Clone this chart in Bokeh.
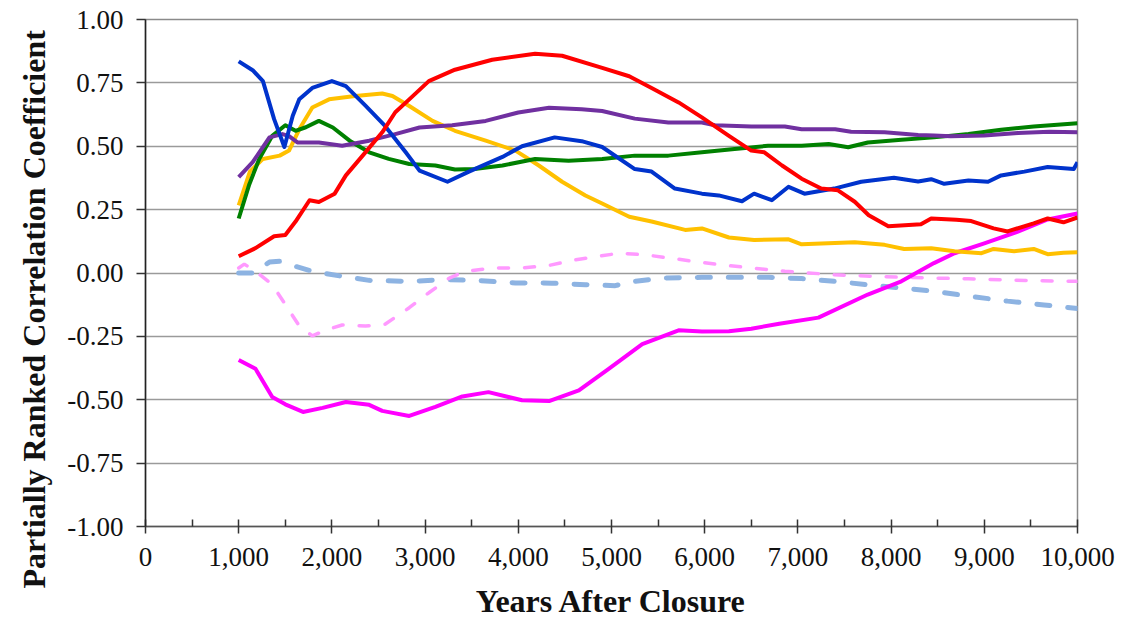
from bokeh.plotting import figure
from bokeh.models import Range1d, FixedTicker, NumeralTickFormatter, Title
from bokeh.embed import file_html
from bokeh.resources import INLINE

# ---- data ----
blue_x = [1000, 1150, 1260, 1380, 1490, 1580, 1650, 1790, 2000, 2150, 2360, 2570, 2790, 2940, 3240, 3470,
          3830, 4040, 4390, 4680, 4900, 5250, 5430, 5680, 5970, 6150, 6400, 6530, 6720, 6900, 7070, 7390,
          7680, 8030, 8290, 8430, 8570, 8830, 9040, 9180, 9430, 9680, 9960, 10000]
blue_y = [0.835, 0.80, 0.757, 0.607, 0.497, 0.62, 0.685, 0.73, 0.757, 0.737, 0.66, 0.58, 0.477, 0.404, 0.36, 0.40,
          0.458, 0.50, 0.535, 0.52, 0.497, 0.41, 0.40, 0.333, 0.313, 0.306, 0.283, 0.313, 0.287, 0.34, 0.313, 0.333,
          0.36, 0.376, 0.361, 0.37, 0.352, 0.365, 0.36, 0.385, 0.40, 0.418, 0.41, 0.437]

red_x = [1000, 1180, 1380, 1500, 1610, 1760, 1860, 2030, 2150, 2330, 2540, 2680, 2830, 3040, 3320, 3720,
         4180, 4470, 4900, 5190, 5430, 5720, 5970, 6260, 6500, 6640, 6830, 7040, 7250, 7430, 7610, 7760,
         7970, 8320, 8430, 8700, 8860, 9100, 9250, 9530, 9680, 9850, 10000]
red_y = [0.066, 0.098, 0.145, 0.15, 0.203, 0.287, 0.28, 0.313, 0.385, 0.463, 0.555, 0.634, 0.685, 0.757, 0.802, 0.841,
         0.865, 0.857, 0.809, 0.776, 0.73, 0.673, 0.614, 0.541, 0.483, 0.476, 0.424, 0.372, 0.333, 0.326, 0.281, 0.228,
         0.184, 0.192, 0.215, 0.21, 0.205, 0.176, 0.164, 0.196, 0.215, 0.2, 0.219]

yellow_x = [1000, 1120, 1260, 1440, 1540, 1650, 1790, 1970, 2250, 2540, 2650, 2830, 3080, 3320, 3650, 3970,
            4220, 4470, 4720, 4900, 5190, 5430, 5790, 5970, 6260, 6530, 6900, 7040, 7610, 7930, 8140, 8430,
            8680, 8970, 9100, 9320, 9530, 9680, 9850, 10000]
yellow_y = [0.267, 0.40, 0.45, 0.463, 0.483, 0.567, 0.653, 0.685, 0.698, 0.708, 0.698, 0.659, 0.60, 0.561, 0.522, 0.483,
            0.424, 0.36, 0.306, 0.274, 0.222, 0.203, 0.17, 0.176, 0.14, 0.13, 0.133, 0.113, 0.121, 0.111, 0.095, 0.098,
            0.086, 0.078, 0.095, 0.086, 0.095, 0.074, 0.08, 0.082]

green_x = [1000, 1110, 1220, 1360, 1500, 1610, 1720, 1860, 2010, 2190, 2400, 2610, 2830, 3110, 3320, 3530,
           3830, 4180, 4540, 4900, 5250, 5610, 5970, 6320, 6680, 7040, 7330, 7540, 7750, 8110, 8460, 8830,
           9180, 9530, 10000]
green_y = [0.215, 0.346, 0.45, 0.541, 0.583, 0.561, 0.575, 0.60, 0.574, 0.522, 0.476, 0.45, 0.43, 0.424, 0.408, 0.41,
           0.424, 0.45, 0.443, 0.45, 0.463, 0.463, 0.476, 0.489, 0.502, 0.502, 0.509, 0.496, 0.515, 0.526, 0.535, 0.548,
           0.565, 0.578, 0.591]

purple_x = [1000, 1150, 1330, 1470, 1540, 1630, 1860, 2110, 2400, 2680, 2940, 3290, 3650, 4000, 4330, 4680,
            4900, 5250, 5610, 5970, 6110, 6500, 6860, 7040, 7400, 7570, 7930, 8290, 8460, 8640, 9000, 9360,
            9700, 10000]
purple_y = [0.378, 0.437, 0.535, 0.548, 0.54, 0.515, 0.515, 0.502, 0.522, 0.548, 0.574, 0.583, 0.60, 0.633, 0.652, 0.646,
            0.639, 0.609, 0.594, 0.594, 0.583, 0.578, 0.578, 0.567, 0.567, 0.557, 0.555, 0.544, 0.542, 0.539, 0.542, 0.552,
            0.557, 0.555]

magenta_x = [1000, 1180, 1360, 1500, 1690, 1900, 2150, 2400, 2540, 2830, 3110, 3400, 3680, 4040, 4330, 4650,
             4970, 5330, 5720, 5970, 6260, 6500, 6800, 7220, 7750, 8110, 8460, 8680, 9000, 9360, 9680, 10000]
magenta_y = [-0.343, -0.378, -0.489, -0.518, -0.548, -0.532, -0.509, -0.52, -0.544, -0.564, -0.528, -0.487, -0.47,
             -0.502, -0.505, -0.463, -0.378, -0.281, -0.226, -0.231, -0.23, -0.22, -0.2, -0.176, -0.085, -0.033,
             0.039, 0.078, 0.117, 0.163, 0.211, 0.235]

pink_x = [1000, 1060, 1180, 1360, 1500, 1650, 1790, 1930, 2110, 2360, 2570, 2830, 3040, 3260, 3430, 3750,
          4040, 4330, 4610, 5080, 5360, 5680, 6150, 6500, 6860, 7390, 8110, 8830, 9530, 10000]
pink_y = [0.02, 0.035, 0.007, -0.046, -0.124, -0.209, -0.248, -0.226, -0.205, -0.209, -0.202, -0.137, -0.078, -0.02,
          0.007, 0.02, 0.02, 0.03, 0.052, 0.078, 0.072, 0.056, 0.033, 0.02, 0.007, -0.007, -0.017, -0.023, -0.03, -0.033]

ltblue_x = [1000, 1150, 1330, 1440, 1610, 1790, 2110, 2400, 2830, 3220, 3580, 3970, 4360, 4720, 5040, 5200,
            5540, 5970, 6320, 6690, 7040, 7390, 7750, 8110, 8460, 8830, 9250, 9640, 10000]
ltblue_y = [0.0, 0.0, 0.043, 0.046, 0.026, 0.007, -0.013, -0.029, -0.033, -0.026, -0.03, -0.039, -0.04, -0.046, -0.05,
            -0.035, -0.02, -0.017, -0.017, -0.017, -0.022, -0.033, -0.046, -0.059, -0.072, -0.091, -0.111, -0.126, -0.14]

x_ticks = [0, 1000, 2000, 3000, 4000, 5000, 6000, 7000, 8000, 9000, 10000]
x_minor = [500, 1500, 2500, 3500, 4500, 5500, 6500, 7500, 8500, 9500]
y_ticks = [-1.0, -0.75, -0.5, -0.25, 0.0, 0.25, 0.5, 0.75, 1.0]
y_title = "Partially Ranked Correlation Coefficient"
x_title = "Years After Closure"

SERIF = "Liberation Serif"

p = figure(width=1121, height=621, x_range=Range1d(0, 10000), y_range=Range1d(-1, 1),
           output_backend="svg", toolbar_location=None,
           min_border_left=144, min_border_right=44, min_border_top=19, min_border_bottom=91)
p.background_fill_color = "white"
p.border_fill_color = "white"
p.outline_line_color = "#8a8a8a"
p.outline_line_width = 1.5

# grid
p.xgrid.grid_line_color = None
p.ygrid.ticker = FixedTicker(ticks=y_ticks)
p.ygrid.grid_line_color = "#9a9a9a"
p.ygrid.grid_line_width = 1.5

# x axis
xa = p.xaxis[0]
xa.ticker = FixedTicker(ticks=x_ticks, minor_ticks=x_minor)
xa.formatter = NumeralTickFormatter(format="0,0")
xa.axis_line_color = "#555555"
xa.axis_line_width = 1.5
xa.major_tick_line_color = "#333333"
xa.major_tick_line_width = 1.5
xa.major_tick_in = 7
xa.major_tick_out = 7
xa.minor_tick_line_color = "#333333"
xa.minor_tick_line_width = 1.5
xa.minor_tick_in = 7
xa.minor_tick_out = 0
xa.major_label_text_font = SERIF
xa.major_label_text_font_size = "27px"
xa.major_label_text_color = "#111111"
xa.major_label_standoff = 14
xa.axis_label = x_title
xa.axis_label_text_font = SERIF
xa.axis_label_text_font_style = "bold"
xa.axis_label_text_font_size = "32px"
xa.axis_label_text_color = "#111111"
xa.axis_label_standoff = 14

# y axis
ya = p.yaxis[0]
ya.ticker = FixedTicker(ticks=y_ticks)
ya.formatter = NumeralTickFormatter(format="0.00")
ya.axis_line_color = "#222222"
ya.axis_line_width = 1.5
ya.major_tick_line_color = "#333333"
ya.major_tick_line_width = 1.5
ya.major_tick_in = 0
ya.major_tick_out = 9
ya.minor_tick_line_color = None
ya.major_label_text_font = SERIF
ya.major_label_text_font_size = "27px"
ya.major_label_text_color = "#111111"
ya.major_label_standoff = 13

# y-axis title as a left-side Title, shifted down (reference centres it below the frame centre)
p.add_layout(Title(text=y_title, align="left", offset=-62, standoff=26,
                   text_font=SERIF, text_font_style="bold", text_font_size="32px",
                   text_color="#111111"), "left")

# series
p.line(ltblue_x, ltblue_y, line_color="#8DB3E2", line_width=5, line_dash="13 18", line_cap="round")
p.line(pink_x, pink_y, line_color="#FF99FF", line_width=3.5, line_dash="10 16", line_cap="round")
p.line(magenta_x, magenta_y, line_color="#FF00FF", line_width=4, line_join="round")
p.line(yellow_x, yellow_y, line_color="#FFC000", line_width=4, line_join="round")
p.line(green_x, green_y, line_color="#008000", line_width=4, line_join="round")
p.line(purple_x, purple_y, line_color="#7030A0", line_width=4, line_join="round")
p.line(blue_x, blue_y, line_color="#0033CC", line_width=4, line_join="round")
p.line(red_x, red_y, line_color="#FF0000", line_width=4, line_join="round")

open("out.html", "w").write(file_html(p, INLINE))
